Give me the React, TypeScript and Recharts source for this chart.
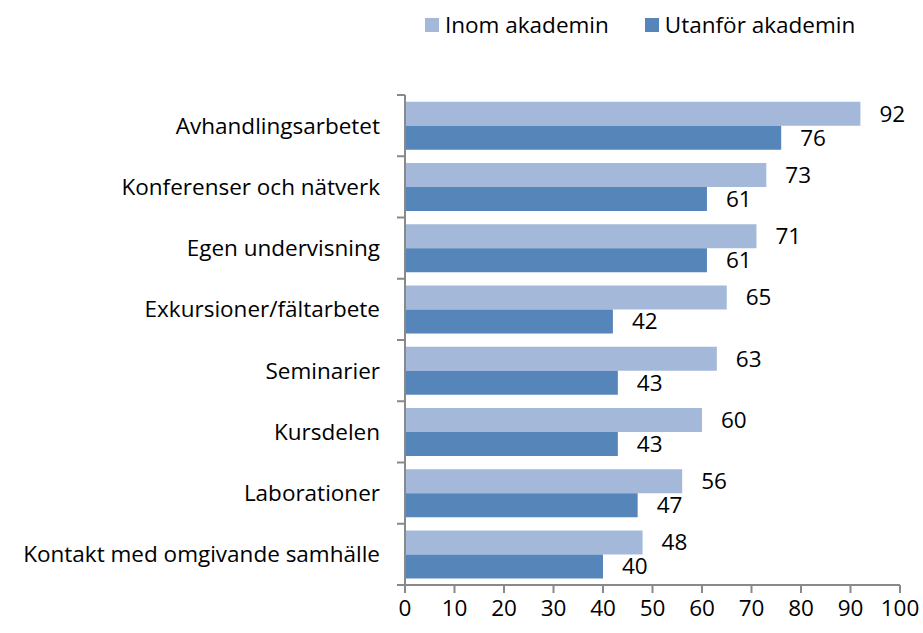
import React from 'react';
import { Bar, BarChart, LabelList, XAxis, YAxis } from 'recharts';

const categories = [
  'Avhandlingsarbetet',
  'Konferenser och nätverk',
  'Egen undervisning',
  'Exkursioner/fältarbete',
  'Seminarier',
  'Kursdelen',
  'Laborationer',
  'Kontakt med omgivande samhälle',
];
const inomAkademin = [92, 73, 71, 65, 63, 60, 56, 48];
const utanforAkademin = [76, 61, 61, 42, 43, 43, 47, 40];
const xTicks = [0, 10, 20, 30, 40, 50, 60, 70, 80, 90, 100];

const data = categories.map((name, i) => ({
  name,
  inom: inomAkademin[i],
  utanfor: utanforAkademin[i],
}));

const W = 923;
const H = 633;
const TOP = 95;
const BOTTOM = 48;
const FONT = '"Open Sans", sans-serif';
const FS = 22.5;
const AXIS = '#898989';
const LIGHT = '#a4b9da';
const DARK = '#5585b9';
const band = (H - TOP - BOTTOM) / categories.length;

const CategoryTick = (props: any) => {
  const { x, y, payload, index } = props;
  const ax = x + 8;
  return (
    <g>
      <line x1={ax - 8} x2={ax} y1={y - band / 2} y2={y - band / 2} stroke={AXIS} strokeWidth={2} />
      {index === categories.length - 1 && (
        <line x1={ax - 8} x2={ax} y1={y + band / 2} y2={y + band / 2} stroke={AXIS} strokeWidth={2} />
      )}
      <text x={x - 17} y={y} dy={8} textAnchor="end" fontSize={FS} fill="#000" fontFamily={FONT}>
        {payload.value}
      </text>
    </g>
  );
};

const legendItems = [
  { label: 'Inom akademin', color: LIGHT },
  { label: 'Utanför akademin', color: DARK },
];

export default function App() {
  return (
    <div style={{ position: 'absolute', left: 0, top: 0, width: W, height: H, background: '#fff' }}>
      <div
        style={{
          position: 'absolute',
          left: 425,
          top: 10,
          display: 'flex',
          alignItems: 'center',
          fontFamily: FONT,
          fontSize: FS,
          lineHeight: '30px',
          color: '#000',
        }}
      >
        {legendItems.map((it, i) => (
          <div key={it.label} style={{ display: 'flex', alignItems: 'center', marginLeft: i ? 36 : 0 }}>
            <span style={{ width: 14, height: 14, background: it.color, display: 'inline-block', marginRight: 6 }} />
            <span>{it.label}</span>
          </div>
        ))}
      </div>
      <BarChart
        width={W}
        height={H}
        data={data}
        layout="vertical"
        margin={{ top: TOP, right: 23, bottom: 0, left: 0 }}
        barCategoryGap="11%"
        barGap={0}
      >
        <XAxis
          type="number"
          domain={[0, 100]}
          ticks={xTicks}
          interval={0}
          height={BOTTOM}
          stroke={AXIS}
          strokeWidth={2}
          tickSize={8}
          tickMargin={7}
          tick={{ fill: '#000', fontSize: FS, fontFamily: FONT }}
        />
        <YAxis
          type="category"
          dataKey="name"
          width={405}
          stroke={AXIS}
          strokeWidth={2}
          tickLine={false}
          tick={<CategoryTick />}
          interval={0}
        />
        <Bar dataKey="inom" fill={LIGHT} isAnimationActive={false}>
          <LabelList dataKey="inom" position="right" offset={19} fill="#000" fontSize={FS} fontFamily={FONT} />
        </Bar>
        <Bar dataKey="utanfor" fill={DARK} isAnimationActive={false}>
          <LabelList dataKey="utanfor" position="right" offset={19} fill="#000" fontSize={FS} fontFamily={FONT} />
        </Bar>
      </BarChart>
    </div>
  );
}
